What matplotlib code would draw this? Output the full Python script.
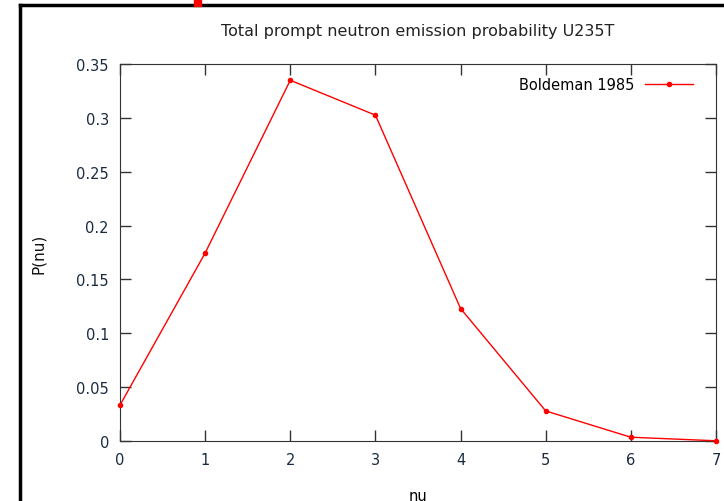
import matplotlib.pyplot as plt
from matplotlib.lines import Line2D

nu = [0, 1, 2, 3, 4, 5, 6, 7]
p_nu = [0.0333, 0.1745, 0.3349, 0.3025, 0.1230, 0.0279, 0.0035, 0.0002]
x_ticks = [0, 1, 2, 3, 4, 5, 6, 7]
y_ticks = [0, 0.05, 0.1, 0.15, 0.2, 0.25, 0.3, 0.35]
y_labels = ["0", "0.05", "0.1", "0.15", "0.2", "0.25", "0.3", "0.35"]

fig = plt.figure(figsize=(7.24, 5.02), dpi=100)
ax = fig.add_axes([120 / 724, 60 / 502, 596 / 724, 377 / 502])

# outer frame of the screenshot
fig.add_artist(Line2D([20 / 724, 20 / 724], [0, 496 / 502], color="black", lw=2.5))
fig.add_artist(Line2D([20 / 724, 1], [496 / 502, 496 / 502], color="black", lw=2.5))
fig.add_artist(Line2D([198 / 724, 198 / 724], [498 / 502, 1], color="red", lw=6))

ax.plot(nu, p_nu, color="red", lw=1, marker="o", ms=3, label="Boldeman 1985",
        clip_on=False, zorder=3)

ax.set_xlim(0, 7)
ax.set_ylim(0, 0.35)
ax.set_xticks(x_ticks)
ax.set_yticks(y_ticks)
ax.set_yticklabels(y_labels)
ax.tick_params(direction="in", length=8, width=1, top=True, right=True,
               labelsize=10.5, colors="#333333", labelcolor="#1a2a40", pad=8)
for s in ax.spines.values():
    s.set_color("#333333")

ax.set_title("Total prompt neutron emission probability U235T", fontsize=11.5,
             color="#222222", pad=21)
ax.set_xlabel("nu", fontsize=10.5, labelpad=15)
ax.set_ylabel("P(nu)", fontsize=11, labelpad=22, color="#111111")

ax.legend(loc="upper right", bbox_to_anchor=(1 - 17 / 596, 1 - 7 / 377),
          frameon=False, fontsize=10.5, markerfirst=False,
          handlelength=3.3, borderaxespad=0, handletextpad=0.7)

fig.savefig("out.png", dpi=100)
